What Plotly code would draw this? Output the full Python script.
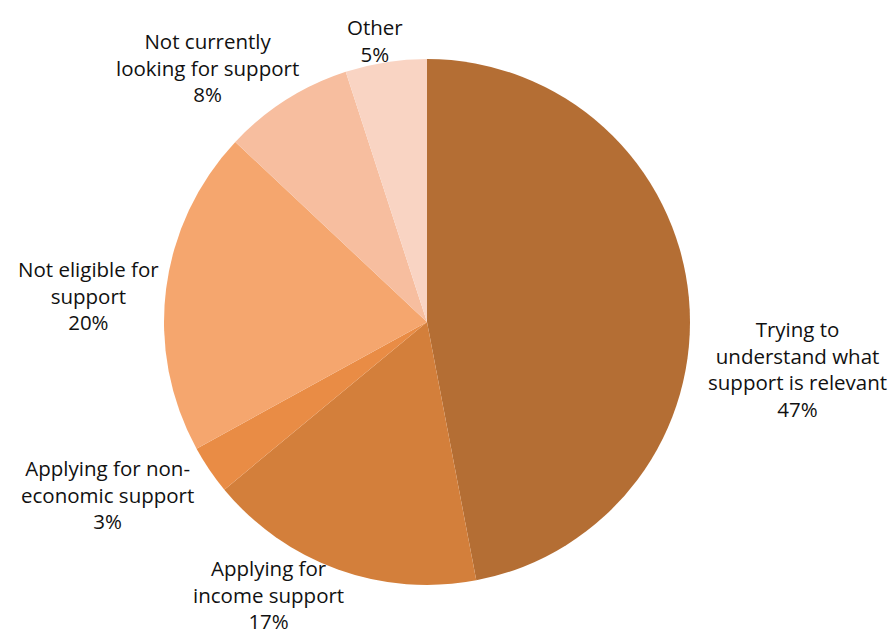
import plotly.graph_objects as go

labels = ["Trying to<br>understand what<br>support is relevant",
          "Applying for<br>income support",
          "Applying for non-<br>economic support",
          "Not eligible for<br>support",
          "Not currently<br>looking for support",
          "Other"]
values = [47, 17, 3, 20, 8, 5]
colors = ["#B46E34", "#D37F3B", "#E98C45", "#F5A66E", "#F7BE9F", "#F9D4C3"]

# label anchor positions in pixels (centre of text block)
label_x = [797, 268, 107, 88, 207, 375]
label_y = [369, 594, 494, 295, 67, 40]

W, H = 893, 634
cx, cy, r = 427, 322, 263

fig = go.Figure(go.Pie(
    labels=[l.replace("<br>", " ") for l in labels],
    values=values,
    marker=dict(colors=colors, line=dict(width=0)),
    sort=False,
    direction="clockwise",
    rotation=0,
    textinfo="none",
    hoverinfo="label+percent",
    domain=dict(x=[(cx - r) / W, (cx + r) / W], y=[(H - cy - r) / H, (H - cy + r) / H]),
))

for lab, v, x, y in zip(labels, values, label_x, label_y):
    fig.add_annotation(
        x=x / W, y=1 - y / H, xref="paper", yref="paper",
        text=f"{lab}<br>{v}%", showarrow=False, align="center",
        xanchor="center", yanchor="middle",
        font=dict(family="Open Sans, sans-serif", size=20.5, color="#111111"),
    )

fig.update_layout(
    width=W, height=H, margin=dict(l=0, r=0, t=0, b=0),
    showlegend=False, paper_bgcolor="white", plot_bgcolor="white",
)
fig.write_html("out.html")
